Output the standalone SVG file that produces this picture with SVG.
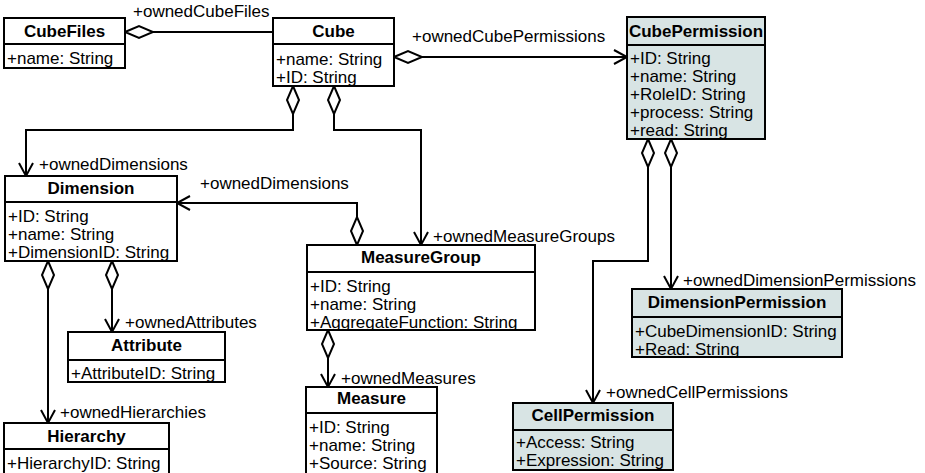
<svg xmlns="http://www.w3.org/2000/svg" width="925" height="473" viewBox="0 0 925 473">
  <style>
    .box { fill: #ffffff; stroke: #000; stroke-width: 2; }
    .perm { fill: #d8e4e4; stroke: #000; stroke-width: 2; }
    .sep { stroke: #000; stroke-width: 2; }
    .title { font-family: "Liberation Sans", Arial, sans-serif; font-size: 17px; font-weight: bold; text-anchor: middle; fill: #000; }
    .attr { font-family: "Liberation Sans", Arial, sans-serif; font-size: 17px; fill: #000; }
    .role { font-family: "Liberation Sans", Arial, sans-serif; font-size: 17px; fill: #000; }
    .link { fill: none; stroke: #000; stroke-width: 2; marker-start: url(#diamond); }
    .nav { marker-end: url(#open); }
  </style>
  <defs>
    <marker id="diamond" markerUnits="userSpaceOnUse" markerWidth="32" markerHeight="16" refX="0" refY="0" viewBox="-1 -8 32 16" orient="auto" overflow="visible">
      <path d="M 0 0 L 14 -6 L 28 0 L 14 6 Z" fill="#fff" stroke="#000" stroke-width="2"/>
    </marker>
    <marker id="open" markerUnits="userSpaceOnUse" markerWidth="16" markerHeight="18" refX="0" refY="0" viewBox="-15 -9 16 18" orient="auto" overflow="visible">
      <path d="M -13 -7 L 0 0 L -13 7" fill="none" stroke="#000" stroke-width="2"/>
    </marker>
  </defs>

  <g id="connectors">
    <path class="link" d="M 125 32 L 273 32"/>
    <path class="link nav" d="M 394 57 L 627 57"/>
    <path class="link nav" d="M 293 86 L 293 130 L 26 130 L 26 176"/>
    <path class="link nav" d="M 334 86 L 334 130 L 421 130 L 421 245"/>
    <path class="link nav" d="M 357 245 L 357 203 L 177 203"/>
    <path class="link nav" d="M 48 261 L 48 423"/>
    <path class="link nav" d="M 112 261 L 112 332"/>
    <path class="link nav" d="M 328 330 L 328 387"/>
    <path class="link nav" d="M 648 139 L 648 261 L 593 261 L 593 403"/>
    <path class="link nav" d="M 671 139 L 671 289"/>
    <text class="role" x="133" y="17">+ownedCubeFiles</text>
    <text class="role" x="412" y="42">+ownedCubePermissions</text>
    <text class="role" x="39" y="170">+ownedDimensions</text>
    <text class="role" x="200" y="189">+ownedDimensions</text>
    <text class="role" x="433" y="242">+ownedMeasureGroups</text>
    <text class="role" x="125" y="328">+ownedAttributes</text>
    <text class="role" x="60" y="418">+ownedHierarchies</text>
    <text class="role" x="341" y="384">+ownedMeasures</text>
    <text class="role" x="683" y="286">+ownedDimensionPermissions</text>
    <text class="role" x="606" y="398">+ownedCellPermissions</text>
  </g>

  <g id="CubeFiles">
    <rect class="box" x="4" y="18" width="121" height="50"/>
    <line class="sep" x1="4" y1="44" x2="125" y2="44"/>
    <text class="title" x="64.5" y="37">CubeFiles</text>
    <text class="attr" x="7" y="64">+name: String</text>
  </g>

  <g id="Cube">
    <rect class="box" x="273" y="18" width="121" height="68"/>
    <line class="sep" x1="273" y1="44" x2="394" y2="44"/>
    <text class="title" x="333.5" y="37">Cube</text>
    <text class="attr" x="276" y="65">+name: String</text>
    <text class="attr" x="276" y="83">+ID: String</text>
  </g>

  <g id="CubePermission">
    <rect class="perm" x="627" y="17" width="138" height="122"/>
    <line class="sep" x1="627" y1="45" x2="765" y2="45"/>
    <text class="title" x="696" y="37">CubePermission</text>
    <text class="attr" x="630" y="64">+ID: String</text>
    <text class="attr" x="630" y="82">+name: String</text>
    <text class="attr" x="630" y="100">+RoleID: String</text>
    <text class="attr" x="630" y="118">+process: String</text>
    <text class="attr" x="630" y="136">+read: String</text>
  </g>

  <g id="Dimension">
    <rect class="box" x="5" y="176" width="172" height="85"/>
    <line class="sep" x1="5" y1="202" x2="177" y2="202"/>
    <text class="title" x="91" y="194">Dimension</text>
    <text class="attr" x="8" y="222">+ID: String</text>
    <text class="attr" x="8" y="240">+name: String</text>
    <text class="attr" x="8" y="258">+DimensionID: String</text>
  </g>

  <g id="MeasureGroup">
    <rect class="box" x="307" y="245" width="228" height="85"/>
    <line class="sep" x1="307" y1="272" x2="535" y2="272"/>
    <text class="title" x="421" y="263">MeasureGroup</text>
    <text class="attr" x="310" y="292">+ID: String</text>
    <text class="attr" x="310" y="310">+name: String</text>
    <text class="attr" x="310" y="328">+AggregateFunction: String</text>
  </g>

  <g id="Attribute">
    <rect class="box" x="68" y="332" width="157" height="50"/>
    <line class="sep" x1="68" y1="360" x2="225" y2="360"/>
    <text class="title" x="146.5" y="351">Attribute</text>
    <text class="attr" x="71" y="379">+AttributeID: String</text>
  </g>

  <g id="Hierarchy">
    <rect class="box" x="4" y="423" width="165" height="52"/>
    <line class="sep" x1="4" y1="449" x2="169" y2="449"/>
    <text class="title" x="86.5" y="442">Hierarchy</text>
    <text class="attr" x="7" y="469">+HierarchyID: String</text>
  </g>

  <g id="Measure">
    <rect class="box" x="306" y="387" width="131" height="88"/>
    <line class="sep" x1="306" y1="413" x2="437" y2="413"/>
    <text class="title" x="371.5" y="404">Measure</text>
    <text class="attr" x="309" y="433">+ID: String</text>
    <text class="attr" x="309" y="451">+name: String</text>
    <text class="attr" x="309" y="469">+Source: String</text>
  </g>

  <g id="DimensionPermission">
    <rect class="perm" x="632" y="289" width="210" height="68"/>
    <line class="sep" x1="632" y1="317" x2="842" y2="317"/>
    <text class="title" x="737" y="308">DimensionPermission</text>
    <text class="attr" x="635" y="337">+CubeDimensionID: String</text>
    <text class="attr" x="635" y="355">+Read: String</text>
  </g>

  <g id="CellPermission">
    <rect class="perm" x="513" y="403" width="160" height="67"/>
    <line class="sep" x1="513" y1="430" x2="673" y2="430"/>
    <text class="title" x="593" y="421">CellPermission</text>
    <text class="attr" x="516" y="448">+Access: String</text>
    <text class="attr" x="516" y="466">+Expression: String</text>
  </g>
</svg>
